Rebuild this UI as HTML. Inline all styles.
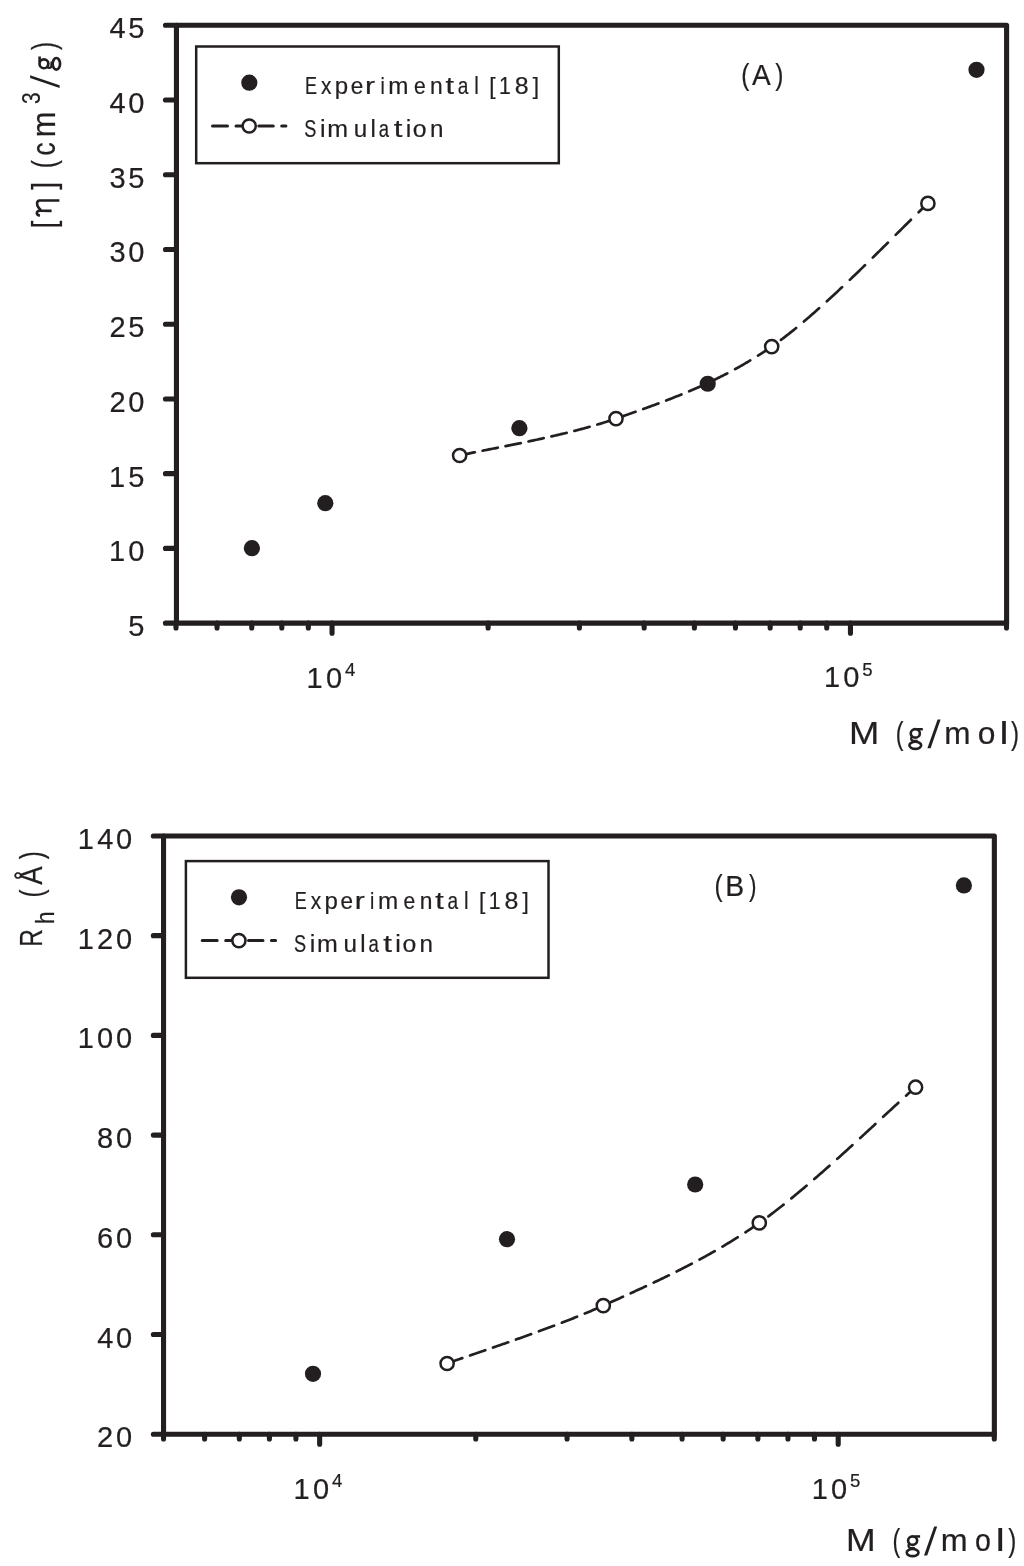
<!DOCTYPE html>
<html><head><meta charset="utf-8"><style>
html,body{margin:0;padding:0;background:#fff;overflow:hidden;}
svg{display:block;will-change:transform;}
text{font-family:"Liberation Sans", sans-serif;fill:#231f20;stroke:#231f20;stroke-width:0.22px;}
</style></head><body>
<svg width="1024" height="1566" viewBox="0 0 1024 1566">
<rect width="1024" height="1566" fill="#fff"/>
<path d="M176.45,623.15 L176.45,25.25 L1006.6,25.25 L1006.6,623.15 Z" fill="none" stroke="#231f20" stroke-width="5.1" stroke-linejoin="round"/>
<path d="M165.45,25.25 L176.45,25.25 M165.45,99.99 L176.45,99.99 M165.45,174.72 L176.45,174.72 M165.45,249.46 L176.45,249.46 M165.45,324.20 L176.45,324.20 M165.45,398.94 L176.45,398.94 M165.45,473.67 L176.45,473.67 M165.45,548.41 L176.45,548.41 M165.45,623.15 L176.45,623.15 M176.00,623.15 L176.00,627.9499999999999 M217.04,623.15 L217.04,627.9499999999999 M251.75,623.15 L251.75,627.9499999999999 M281.81,623.15 L281.81,627.9499999999999 M308.33,623.15 L308.33,627.9499999999999 M332.05,623.15 L332.05,633.15 M488.10,623.15 L488.10,627.9499999999999 M579.39,623.15 L579.39,627.9499999999999 M644.16,623.15 L644.16,627.9499999999999 M694.40,623.15 L694.40,627.9499999999999 M735.44,623.15 L735.44,627.9499999999999 M770.15,623.15 L770.15,627.9499999999999 M800.21,623.15 L800.21,627.9499999999999 M826.73,623.15 L826.73,627.9499999999999 M850.45,623.15 L850.45,633.15 M1006.50,623.15 L1006.50,627.9499999999999" stroke="#231f20" stroke-width="5.1" stroke-linecap="round" fill="none"/>
<rect x="196.20" y="46.50" width="362.6" height="116.7" fill="#fff" stroke="#231f20" stroke-width="2.5"/>
<circle cx="249.30" cy="82.70" r="8.1" fill="#231f20"/>
<path d="M212.5,126.0 L227.5,126.0 M236.0,126.0 L251.0,126.0 M258.8,126.0 L273.3,126.0 M281.7,126.0 L285.9,126.0" stroke="#231f20" stroke-width="3" stroke-linecap="round" fill="none"/>
<circle cx="249.20" cy="126.00" r="6.6" fill="#fff" stroke="#231f20" stroke-width="2.5"/>
<text transform="translate(305.05,93.90) scale(0.750,1.000)" font-size="24">E</text>
<text transform="translate(321.07,93.90) scale(0.872,1.000)" font-size="24">x</text>
<text x="334.74" y="93.90" font-size="24">p</text>
<text transform="translate(350.84,93.90) scale(0.941,1.000)" font-size="24">e</text>
<text transform="translate(365.01,93.90) scale(1.250,1.000)" font-size="24">r</text>
<text transform="translate(380.41,93.90) scale(0.806,1.000)" font-size="24">i</text>
<text transform="translate(388.29,93.90) scale(1.011,1.000)" font-size="24">m</text>
<text transform="translate(413.90,93.90) scale(0.879,1.000)" font-size="24">e</text>
<text transform="translate(429.98,93.90) scale(0.951,1.000)" font-size="24">n</text>
<text transform="translate(445.54,93.90) scale(1.273,1.000)" font-size="24">t</text>
<text transform="translate(457.69,93.90) scale(0.795,1.000)" font-size="24">a</text>
<text transform="translate(474.32,93.90) scale(0.853,1.000)" font-size="24">l</text>
<text transform="translate(489.19,93.90) scale(0.943,1.000)" font-size="24">[</text>
<text transform="translate(499.09,93.90) scale(0.879,1.000)" font-size="24">1</text>
<text transform="translate(514.82,93.90) scale(1.039,1.000)" font-size="24">8</text>
<text transform="translate(532.82,93.90) scale(0.943,1.000)" font-size="24">]</text>
<text transform="translate(304.20,136.95) scale(0.750,1.000)" font-size="24.2">S</text>
<text transform="translate(319.93,136.95) scale(1.034,1.000)" font-size="24.2">i</text>
<text transform="translate(327.34,136.95) scale(1.032,1.000)" font-size="24.2">m</text>
<text x="353.74" y="136.95" font-size="24.2">u</text>
<text transform="translate(370.59,136.95) scale(0.987,1.000)" font-size="24.2">l</text>
<text transform="translate(378.71,136.95) scale(0.764,1.000)" font-size="24.2">a</text>
<text transform="translate(393.63,136.95) scale(1.295,1.000)" font-size="24.2">t</text>
<text transform="translate(405.63,136.95) scale(1.034,1.000)" font-size="24.2">i</text>
<text transform="translate(412.86,136.95) scale(1.024,1.000)" font-size="24.2">o</text>
<text x="429.91" y="136.95" font-size="24.2">n</text>
<path d="M459.65,455.50 L460.65,455.27 L461.70,455.03 L462.80,454.78 L463.94,454.53 L465.13,454.27 L466.36,454.01 L467.38,453.79 L468.42,453.57 L469.49,453.35 L470.59,453.12 L471.72,452.89 L472.87,452.66 L474.04,452.42 L474.85,452.26 M482.60,450.71 L483.94,450.45 L484.96,450.24 L486.00,450.04 L487.05,449.83 L488.11,449.62 L489.19,449.41 L490.27,449.20 L491.36,448.98 L492.47,448.76 L493.58,448.54 L494.71,448.32 L495.84,448.10 L496.98,447.87 L497.80,447.71 M505.55,446.17 L506.86,445.91 L508.08,445.66 L509.31,445.41 L510.55,445.17 L511.79,444.91 L513.05,444.66 L514.31,444.40 L515.57,444.15 L516.84,443.89 L518.12,443.63 L519.40,443.36 L520.69,443.10 L520.75,443.08 M528.50,441.46 L529.86,441.18 L531.18,440.89 L532.52,440.61 L533.85,440.32 L535.19,440.04 L536.53,439.75 L537.88,439.45 L539.23,439.16 L540.58,438.86 L541.93,438.57 L543.28,438.26 L543.70,438.17 M551.45,436.42 L552.82,436.11 L554.19,435.79 L555.56,435.47 L556.92,435.15 L558.29,434.83 L559.66,434.51 L561.03,434.18 L562.40,433.85 L563.76,433.52 L565.13,433.19 L566.49,432.86 L566.65,432.82 M574.40,430.88 L575.55,430.58 L576.90,430.23 L578.25,429.88 L579.59,429.53 L580.93,429.17 L582.27,428.82 L583.60,428.46 L584.93,428.10 L586.26,427.74 L587.58,427.37 L588.90,427.00 L589.60,426.81 M597.35,424.58 L598.41,424.26 L599.69,423.88 L600.96,423.49 L602.22,423.11 L603.47,422.72 L604.72,422.33 L605.96,421.94 L607.19,421.54 L608.42,421.15 L609.64,420.75 L610.85,420.35 L612.05,419.95 L612.55,419.78 M620.30,417.10 L621.46,416.69 L622.63,416.29 L623.80,415.88 L624.97,415.47 L626.14,415.06 L627.31,414.65 L628.48,414.24 L629.65,413.83 L630.81,413.42 L631.98,413.00 L633.15,412.59 L634.32,412.18 L635.49,411.77 L635.50,411.76 M643.25,409.00 L644.45,408.57 L645.62,408.15 L646.78,407.73 L647.95,407.30 L649.12,406.88 L650.29,406.45 L651.46,406.03 L652.62,405.60 L653.79,405.17 L654.96,404.74 L656.13,404.30 L657.29,403.87 L658.45,403.44 M666.20,400.50 L667.41,400.04 L668.58,399.59 L669.75,399.13 L670.91,398.68 L672.08,398.22 L673.25,397.76 L674.41,397.30 L675.58,396.84 L676.75,396.37 L677.91,395.90 L679.08,395.43 L680.25,394.96 L681.40,394.49 M689.15,391.26 L690.36,390.75 L691.53,390.25 L692.69,389.75 L693.86,389.24 L695.03,388.74 L696.19,388.23 L697.36,387.71 L698.53,387.19 L699.69,386.67 L700.86,386.15 L702.03,385.62 L703.19,385.09 L704.35,384.57 M712.10,380.94 L713.30,380.36 L714.47,379.79 L715.64,379.23 L716.80,378.65 L717.97,378.08 L719.14,377.50 L720.31,376.91 L721.47,376.33 L722.64,375.73 L723.81,375.14 L724.97,374.54 L726.14,373.93 L727.30,373.33 M735.05,369.18 L736.26,368.51 L737.42,367.87 L738.59,367.22 L739.76,366.56 L740.93,365.90 L742.10,365.23 L743.26,364.56 L744.43,363.88 L745.60,363.20 L746.77,362.52 L747.93,361.83 L749.10,361.13 L750.25,360.44 M758.00,355.65 L759.23,354.87 L760.40,354.13 L761.57,353.37 L762.74,352.61 L763.90,351.85 L765.07,351.08 L766.24,350.30 L767.41,349.52 L768.58,348.73 L769.75,347.94 L770.92,347.14 L772.09,346.33 L773.20,345.56 M780.95,339.93 L782.15,339.03 L783.39,338.09 L784.64,337.13 L785.89,336.16 L787.16,335.18 L788.43,334.19 L789.70,333.18 L790.98,332.16 L792.27,331.13 L793.56,330.09 L794.86,329.03 L796.15,327.98 M803.90,321.51 L804.96,320.60 L806.30,319.46 L807.64,318.32 L808.98,317.16 L810.32,315.99 L811.67,314.82 L813.02,313.64 L814.38,312.45 L815.73,311.25 L817.09,310.05 L818.45,308.84 L819.10,308.26 M826.85,301.27 L828.00,300.23 L829.36,298.98 L830.73,297.72 L832.10,296.46 L833.46,295.20 L834.83,293.94 L836.19,292.67 L837.56,291.40 L838.92,290.13 L840.28,288.85 L841.64,287.57 L842.05,287.19 M849.80,279.85 L851.10,278.60 L852.44,277.32 L853.78,276.04 L855.11,274.76 L856.44,273.48 L857.77,272.20 L859.09,270.93 L860.41,269.65 L861.72,268.38 L863.03,267.11 L864.33,265.84 L865.00,265.19 M872.75,257.62 L874.14,256.25 L875.40,255.01 L876.64,253.79 L877.88,252.57 L879.11,251.35 L880.34,250.14 L881.55,248.94 L882.76,247.74 L883.96,246.56 L885.16,245.37 L886.34,244.20 L887.52,243.03 L887.95,242.60 M895.70,234.90 L896.95,233.66 L898.04,232.58 L899.11,231.51 L900.17,230.45 L901.23,229.40 L902.27,228.36 L903.30,227.34 L904.32,226.33 L905.33,225.33 L906.65,224.01 L907.95,222.72 L909.23,221.46 L910.49,220.21 L910.90,219.80 M918.65,212.20 L919.66,211.21 L920.69,210.22 L921.69,209.25 L922.91,208.09 L924.08,206.97 L925.20,205.91 L926.28,204.90 L927.31,203.95 L927.90,203.40" fill="none" stroke="#231f20" stroke-width="2.7" stroke-linecap="round" stroke-linejoin="round"/>
<circle cx="251.90" cy="548.20" r="8.1" fill="#231f20"/>
<circle cx="325.30" cy="503.20" r="8.1" fill="#231f20"/>
<circle cx="519.40" cy="428.20" r="8.1" fill="#231f20"/>
<circle cx="707.70" cy="383.75" r="8.1" fill="#231f20"/>
<circle cx="976.50" cy="69.80" r="8.1" fill="#231f20"/>
<circle cx="459.65" cy="455.50" r="6.6" fill="#fff" stroke="#231f20" stroke-width="2.5"/>
<circle cx="616.00" cy="418.60" r="6.6" fill="#fff" stroke="#231f20" stroke-width="2.5"/>
<circle cx="771.70" cy="346.60" r="6.6" fill="#fff" stroke="#231f20" stroke-width="2.5"/>
<circle cx="927.90" cy="203.40" r="6.6" fill="#fff" stroke="#231f20" stroke-width="2.5"/>
<text x="109.48 128.26" y="38.25" font-size="29.0">45</text>
<text x="109.48 128.24" y="112.99" font-size="29.0">40</text>
<text x="109.47 128.26" y="187.72" font-size="29.0">35</text>
<text x="109.47 128.24" y="262.46" font-size="29.0">30</text>
<text x="109.39 128.26" y="337.20" font-size="29.0">25</text>
<text x="109.39 128.24" y="411.94" font-size="29.0">20</text>
<text x="108.99 128.26" y="486.67" font-size="29.0">15</text>
<text x="108.99 128.24" y="561.41" font-size="29.0">10</text>
<text x="128.26" y="636.15" font-size="29.0">5</text>
<text transform="translate(741.14,85.38) scale(0.798,0.954)" font-size="30.5">(</text>
<text transform="translate(751.95,85.30) scale(0.920,0.977)" font-size="30.5">A</text>
<text transform="translate(775.26,85.38) scale(0.804,0.954)" font-size="30.5">)</text>
<text x="306.59 325.89" y="687.60" font-size="29.0">10</text>
<text x="344.94" y="675.90" font-size="18.6">4</text>
<text x="823.99 843.29" y="687.40" font-size="29.0">10</text>
<text x="862.30" y="675.70" font-size="18.6">5</text>
<text transform="translate(849.12,743.80) scale(1.172,1.000)" font-size="31">M</text>
<text transform="translate(895.83,743.80) scale(0.750,1.000)" font-size="31">(</text>
<text transform="translate(944.31,743.80) scale(1.017,1.000)" font-size="31">m</text>
<text transform="translate(977.77,743.80) scale(1.025,1.000)" font-size="31">o</text>
<text transform="translate(999.46,743.80) scale(1.300,1.000)" font-size="31">l</text>
<text transform="translate(1010.96,743.80) scale(0.779,1.000)" font-size="31">)</text>
<text transform="rotate(-90) translate(-228.51,55.00) scale(0.867,1)" font-size="32.5">[</text>
<text transform="rotate(-90) translate(-189.82,55.00) scale(0.867,1)" font-size="32.5">]</text>
<text transform="rotate(-90) translate(-168.29,55.00) scale(0.750,1)" font-size="32.5">(</text>
<text transform="rotate(-90) translate(-155.51,55.00) scale(0.806,1)" font-size="32.5">c</text>
<text transform="rotate(-90) translate(-137.26,55.00) scale(0.953,1)" font-size="32.5">m</text>
<text transform="rotate(-90) translate(-50.07,55.00) scale(0.750,1)" font-size="32.5">)</text>
<text transform="rotate(-90) translate(-104.10,40.10) scale(0.816,1)" font-size="25.6">3</text>
<path d="M30.1,75.2 L30.1,78.0 L59.6,88.0 L59.6,85.2 Z" fill="#231f20"/>
<path d="M937.6,719.4 L940.6,719.4 L930.6,748.3 L927.4,748.3 Z" fill="#231f20"/>
<g transform="translate(908.1,727.8)" fill="none" stroke="#231f20"><ellipse cx="7.2" cy="5.6" rx="4.55" ry="4.25" stroke-width="2.6"/><path d="M9.0,1.45 L14.7,1.45" stroke-width="2.5"/><path d="M4.2,8.7 C2.7,9.9 2.6,12.3 4.8,12.9 L9.5,13.1" stroke-width="2.4"/><ellipse cx="7.2" cy="17.55" rx="5.9" ry="3.55" stroke-width="2.6"/></g>
<path d="M59.4,200.45 L39.6,200.45 C36.6,200.6 36.2,204.8 38.6,207.6 C39.6,208.8 40.4,210.0 41.2,210.75 L51.6,210.85 M41.4,210.7 C38.6,210.2 36.6,211.4 36.8,213.3 C37.0,214.6 38.2,215.4 39.9,215.8" fill="none" stroke="#231f20" stroke-width="2.6"/>
<g transform="translate(38.1,70.9) rotate(-90) scale(0.98,1.04)" fill="none" stroke="#231f20"><ellipse cx="7.2" cy="5.6" rx="4.55" ry="4.25" stroke-width="2.6"/><path d="M9.0,1.45 L14.7,1.45" stroke-width="2.5"/><path d="M4.2,8.7 C2.7,9.9 2.6,12.3 4.8,12.9 L9.5,13.1" stroke-width="2.4"/><ellipse cx="7.2" cy="17.55" rx="5.9" ry="3.55" stroke-width="2.6"/></g>
<path d="M163.55,1434.25 L163.55,835.95 L994.35,835.95 L994.35,1434.25 Z" fill="none" stroke="#231f20" stroke-width="5.1" stroke-linejoin="round"/>
<path d="M153.35,835.95 L163.55,835.95 M153.35,935.67 L163.55,935.67 M153.35,1035.38 L163.55,1035.38 M153.35,1135.10 L163.55,1135.10 M153.35,1234.82 L163.55,1234.82 M153.35,1334.53 L163.55,1334.53 M153.35,1434.25 L163.55,1434.25 M163.55,1434.25 L163.55,1439.05 M204.61,1434.25 L204.61,1439.05 M239.33,1434.25 L239.33,1439.05 M269.40,1434.25 L269.40,1439.05 M295.92,1434.25 L295.92,1439.05 M319.65,1434.25 L319.65,1444.25 M475.75,1434.25 L475.75,1439.05 M567.06,1434.25 L567.06,1439.05 M631.85,1434.25 L631.85,1439.05 M682.10,1434.25 L682.10,1439.05 M723.16,1434.25 L723.16,1439.05 M757.88,1434.25 L757.88,1439.05 M787.95,1434.25 L787.95,1439.05 M814.47,1434.25 L814.47,1439.05 M838.20,1434.25 L838.20,1444.25 M994.30,1434.25 L994.30,1439.05" stroke="#231f20" stroke-width="5.1" stroke-linecap="round" fill="none"/>
<rect x="185.90" y="861.10" width="362.6" height="116.7" fill="#fff" stroke="#231f20" stroke-width="2.5"/>
<circle cx="239.00" cy="897.30" r="8.1" fill="#231f20"/>
<path d="M202.2,940.6 L217.2,940.6 M225.7,940.6 L240.7,940.6 M248.5,940.6 L263.0,940.6 M271.4,940.6 L275.6,940.6" stroke="#231f20" stroke-width="3" stroke-linecap="round" fill="none"/>
<circle cx="238.90" cy="940.60" r="6.6" fill="#fff" stroke="#231f20" stroke-width="2.5"/>
<text transform="translate(294.75,908.50) scale(0.750,1.000)" font-size="24">E</text>
<text transform="translate(310.77,908.50) scale(0.872,1.000)" font-size="24">x</text>
<text x="324.44" y="908.50" font-size="24">p</text>
<text transform="translate(340.54,908.50) scale(0.941,1.000)" font-size="24">e</text>
<text transform="translate(354.71,908.50) scale(1.250,1.000)" font-size="24">r</text>
<text transform="translate(370.11,908.50) scale(0.806,1.000)" font-size="24">i</text>
<text transform="translate(377.99,908.50) scale(1.011,1.000)" font-size="24">m</text>
<text transform="translate(403.60,908.50) scale(0.879,1.000)" font-size="24">e</text>
<text transform="translate(419.68,908.50) scale(0.951,1.000)" font-size="24">n</text>
<text transform="translate(435.24,908.50) scale(1.273,1.000)" font-size="24">t</text>
<text transform="translate(447.39,908.50) scale(0.795,1.000)" font-size="24">a</text>
<text transform="translate(464.02,908.50) scale(0.853,1.000)" font-size="24">l</text>
<text transform="translate(478.89,908.50) scale(0.943,1.000)" font-size="24">[</text>
<text transform="translate(488.79,908.50) scale(0.879,1.000)" font-size="24">1</text>
<text transform="translate(504.52,908.50) scale(1.039,1.000)" font-size="24">8</text>
<text transform="translate(522.52,908.50) scale(0.943,1.000)" font-size="24">]</text>
<text transform="translate(293.90,951.55) scale(0.750,1.000)" font-size="24.2">S</text>
<text transform="translate(309.63,951.55) scale(1.034,1.000)" font-size="24.2">i</text>
<text transform="translate(317.04,951.55) scale(1.032,1.000)" font-size="24.2">m</text>
<text x="343.44" y="951.55" font-size="24.2">u</text>
<text transform="translate(360.29,951.55) scale(0.987,1.000)" font-size="24.2">l</text>
<text transform="translate(368.41,951.55) scale(0.764,1.000)" font-size="24.2">a</text>
<text transform="translate(383.33,951.55) scale(1.295,1.000)" font-size="24.2">t</text>
<text transform="translate(395.33,951.55) scale(1.034,1.000)" font-size="24.2">i</text>
<text transform="translate(402.56,951.55) scale(1.024,1.000)" font-size="24.2">o</text>
<text x="419.61" y="951.55" font-size="24.2">n</text>
<path d="M447.10,1363.50 L448.10,1363.13 L449.15,1362.75 L450.24,1362.35 L451.39,1361.94 L452.57,1361.52 L453.80,1361.08 L454.82,1360.72 L455.86,1360.35 L456.93,1359.98 L458.03,1359.59 L459.15,1359.20 L460.30,1358.80 L461.47,1358.40 L462.30,1358.11 M470.05,1355.44 L471.35,1354.99 L472.38,1354.64 L473.42,1354.28 L474.47,1353.92 L475.53,1353.56 L476.60,1353.19 L477.68,1352.82 L478.77,1352.44 L479.87,1352.06 L480.99,1351.68 L482.11,1351.30 L483.24,1350.91 L484.38,1350.51 L485.25,1350.22 M493.00,1347.55 L494.24,1347.12 L495.46,1346.70 L496.69,1346.27 L497.93,1345.84 L499.17,1345.41 L500.42,1344.98 L501.68,1344.54 L502.94,1344.10 L504.21,1343.66 L505.49,1343.21 L506.77,1342.77 L508.06,1342.32 L508.20,1342.27 M515.95,1339.54 L517.21,1339.10 L518.54,1338.63 L519.87,1338.16 L521.20,1337.68 L522.54,1337.21 L523.88,1336.73 L525.22,1336.25 L526.57,1335.76 L527.92,1335.28 L529.27,1334.79 L530.62,1334.31 L531.15,1334.12 M538.90,1331.30 L540.15,1330.84 L541.52,1330.34 L542.88,1329.84 L544.25,1329.33 L545.61,1328.83 L546.98,1328.32 L548.35,1327.81 L549.71,1327.30 L551.08,1326.79 L552.44,1326.27 L553.81,1325.76 L554.10,1325.65 M561.85,1322.70 L562.86,1322.31 L564.21,1321.79 L565.55,1321.26 L566.90,1320.74 L568.24,1320.22 L569.57,1319.69 L570.91,1319.17 L572.24,1318.64 L573.56,1318.12 L574.88,1317.59 L576.20,1317.06 L577.05,1316.72 M584.80,1313.56 L586.14,1313.01 L587.41,1312.48 L588.67,1311.95 L589.93,1311.42 L591.19,1310.89 L592.43,1310.36 L593.67,1309.83 L594.90,1309.30 L596.12,1308.77 L597.34,1308.24 L598.55,1307.71 L599.75,1307.18 L600.00,1307.07 M607.75,1303.60 L608.76,1303.14 L609.93,1302.61 L611.10,1302.09 L612.27,1301.56 L613.45,1301.03 L614.62,1300.51 L615.79,1299.98 L616.96,1299.45 L618.13,1298.92 L619.30,1298.40 L620.47,1297.87 L621.64,1297.34 L622.81,1296.81 L622.95,1296.75 M630.70,1293.23 L631.78,1292.74 L632.95,1292.21 L634.12,1291.67 L635.29,1291.14 L636.46,1290.60 L637.63,1290.07 L638.80,1289.53 L639.97,1288.99 L641.14,1288.45 L642.31,1287.91 L643.48,1287.37 L644.65,1286.83 L645.82,1286.28 L645.90,1286.25 M653.65,1282.62 L654.78,1282.08 L655.95,1281.53 L657.12,1280.97 L658.29,1280.41 L659.46,1279.85 L660.63,1279.29 L661.80,1278.73 L662.97,1278.17 L664.14,1277.61 L665.31,1277.04 L666.48,1276.47 L667.65,1275.90 L668.82,1275.33 L668.85,1275.31 M676.60,1271.48 L677.79,1270.88 L678.95,1270.30 L680.12,1269.71 L681.29,1269.11 L682.46,1268.52 L683.63,1267.92 L684.80,1267.32 L685.97,1266.72 L687.14,1266.12 L688.31,1265.51 L689.48,1264.90 L690.65,1264.29 L691.80,1263.69 M699.55,1259.55 L700.79,1258.88 L701.96,1258.25 L703.13,1257.61 L704.30,1256.97 L705.47,1256.32 L706.64,1255.67 L707.81,1255.02 L708.97,1254.37 L710.14,1253.71 L711.31,1253.05 L712.48,1252.39 L713.65,1251.72 L714.75,1251.09 M722.50,1246.58 L723.79,1245.81 L724.96,1245.11 L726.13,1244.41 L727.30,1243.70 L728.47,1242.99 L729.64,1242.28 L730.81,1241.56 L731.98,1240.84 L733.15,1240.12 L734.33,1239.39 L735.50,1238.66 L736.67,1237.92 L737.70,1237.27 M745.45,1232.28 L746.81,1231.38 L747.98,1230.61 L749.15,1229.83 L750.32,1229.05 L751.49,1228.26 L752.66,1227.47 L753.84,1226.67 L755.01,1225.87 L756.18,1225.07 L757.35,1224.26 L758.52,1223.44 L759.69,1222.63 L760.65,1221.95 M768.40,1216.33 L769.76,1215.32 L771.00,1214.38 L772.25,1213.44 L773.51,1212.48 L774.78,1211.52 L776.05,1210.54 L777.32,1209.55 L778.60,1208.55 L779.89,1207.55 L781.19,1206.53 L782.48,1205.50 L783.60,1204.62 M791.35,1198.37 L792.60,1197.35 L793.93,1196.25 L795.27,1195.14 L796.62,1194.03 L797.96,1192.91 L799.31,1191.79 L800.66,1190.66 L802.02,1189.52 L803.37,1188.38 L804.73,1187.23 L806.09,1186.08 L806.55,1185.69 M814.30,1179.05 L815.65,1177.88 L817.01,1176.70 L818.38,1175.51 L819.75,1174.32 L821.12,1173.12 L822.48,1171.93 L823.85,1170.73 L825.21,1169.53 L826.58,1168.33 L827.94,1167.13 L829.30,1165.92 L829.50,1165.75 M837.25,1158.84 L838.32,1157.89 L839.66,1156.68 L841.00,1155.48 L842.34,1154.28 L843.67,1153.07 L845.00,1151.88 L846.32,1150.68 L847.64,1149.48 L848.95,1148.29 L850.27,1147.10 L851.57,1145.91 L852.45,1145.11 M860.20,1138.03 L861.40,1136.93 L862.66,1135.78 L863.90,1134.63 L865.15,1133.49 L866.38,1132.36 L867.61,1131.23 L868.83,1130.10 L870.04,1128.99 L871.24,1127.88 L872.44,1126.77 L873.63,1125.67 L874.81,1124.59 L875.40,1124.04 M883.15,1116.86 L884.27,1115.82 L885.36,1114.81 L886.44,1113.82 L887.51,1112.83 L888.56,1111.85 L889.61,1110.88 L890.65,1109.92 L891.67,1108.97 L892.68,1108.04 L894.01,1106.81 L895.32,1105.60 L896.60,1104.41 L897.87,1103.25 L898.35,1102.80 M906.10,1095.69 L907.36,1094.55 L908.39,1093.62 L909.39,1092.71 L910.60,1091.62 L911.77,1090.57 L912.90,1089.57 L913.98,1088.62 L915.01,1087.72 L915.60,1087.20" fill="none" stroke="#231f20" stroke-width="2.7" stroke-linecap="round" stroke-linejoin="round"/>
<circle cx="313.00" cy="1373.80" r="8.1" fill="#231f20"/>
<circle cx="507.00" cy="1239.20" r="8.1" fill="#231f20"/>
<circle cx="695.20" cy="1184.50" r="8.1" fill="#231f20"/>
<circle cx="963.90" cy="885.40" r="8.1" fill="#231f20"/>
<circle cx="447.10" cy="1363.50" r="6.6" fill="#fff" stroke="#231f20" stroke-width="2.5"/>
<circle cx="603.30" cy="1305.60" r="6.6" fill="#fff" stroke="#231f20" stroke-width="2.5"/>
<circle cx="759.30" cy="1222.90" r="6.6" fill="#fff" stroke="#231f20" stroke-width="2.5"/>
<circle cx="915.60" cy="1087.20" r="6.6" fill="#fff" stroke="#231f20" stroke-width="2.5"/>
<text x="77.84 97.18 115.94" y="848.95" font-size="29.0">140</text>
<text x="77.84 97.09 115.94" y="948.67" font-size="29.0">120</text>
<text x="77.84 97.09 115.94" y="1048.38" font-size="29.0">100</text>
<text x="97.09 115.94" y="1148.10" font-size="29.0">80</text>
<text x="96.99 115.94" y="1247.82" font-size="29.0">60</text>
<text x="97.18 115.94" y="1347.53" font-size="29.0">40</text>
<text x="97.09 115.94" y="1447.25" font-size="29.0">20</text>
<text transform="translate(714.38,895.72) scale(0.817,0.962)" font-size="30">(</text>
<text transform="translate(725.37,895.50) scale(0.946,0.962)" font-size="30">B</text>
<text transform="translate(749.04,895.72) scale(0.750,0.962)" font-size="30">)</text>
<text x="293.59 312.89" y="1498.60" font-size="29.0">10</text>
<text x="331.94" y="1486.90" font-size="18.6">4</text>
<text x="811.79 831.09" y="1499.00" font-size="29.0">10</text>
<text x="850.10" y="1487.30" font-size="18.6">5</text>
<text transform="translate(846.08,1550.90) scale(1.148,1.000)" font-size="31">M</text>
<text transform="translate(892.53,1550.90) scale(0.750,1.000)" font-size="31">(</text>
<text transform="translate(940.66,1550.90) scale(1.040,1.000)" font-size="31">m</text>
<text transform="translate(974.90,1550.90) scale(0.922,1.000)" font-size="31">o</text>
<text transform="translate(995.86,1550.90) scale(1.300,1.000)" font-size="31">l</text>
<text transform="translate(1008.26,1550.90) scale(0.779,1.000)" font-size="31">)</text>
<text transform="rotate(-90) translate(-946.80,41.90) scale(0.763,1)" font-size="32">R</text>
<text transform="rotate(-90) translate(-897.52,41.90) scale(0.750,1)" font-size="32">(</text>
<text transform="rotate(-90) translate(-884.65,41.90) scale(0.858,1)" font-size="32">Å</text>
<text transform="rotate(-90) translate(-859.17,41.90) scale(0.750,1)" font-size="32">)</text>
<text transform="rotate(-90) translate(-923.96,54.20) scale(0.887,1)" font-size="25.4">h</text>
<path d="M934.2,1526.6 L937.2,1526.6 L927.2,1555.5 L924.0,1555.5 Z" fill="#231f20"/>
<g transform="translate(905.4,1535.0)" fill="none" stroke="#231f20"><ellipse cx="7.2" cy="5.6" rx="4.55" ry="4.25" stroke-width="2.6"/><path d="M9.0,1.45 L14.7,1.45" stroke-width="2.5"/><path d="M4.2,8.7 C2.7,9.9 2.6,12.3 4.8,12.9 L9.5,13.1" stroke-width="2.4"/><ellipse cx="7.2" cy="17.55" rx="5.9" ry="3.55" stroke-width="2.6"/></g>
</svg>
</body></html>
